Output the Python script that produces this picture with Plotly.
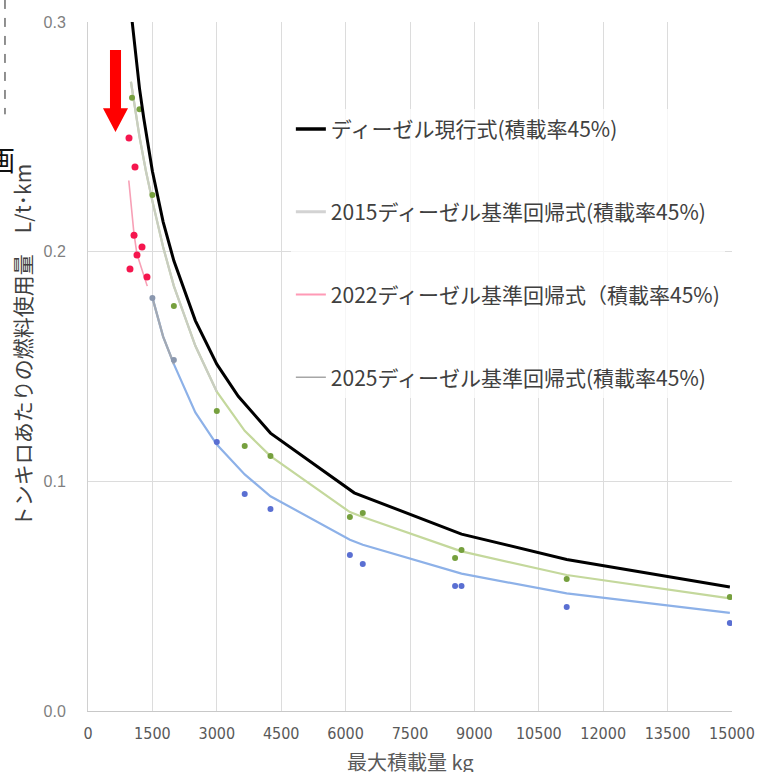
import plotly.graph_objects as go

# ---------------- data ----------------
# current diesel formula (black)
black_x = [1000, 1100, 1200, 1300, 1500, 1750, 2000, 2500, 3000, 3500, 4250, 6200, 8700, 11150, 14950]
black_y = [0.305, 0.287, 0.271, 0.258, 0.235, 0.213, 0.196, 0.170, 0.151, 0.137, 0.121, 0.095, 0.077, 0.066, 0.054]

# 2015 regression line (green)
green_line_x = [1000, 1100, 1200, 1350, 1500, 1750, 2000, 2500, 3000, 3650, 4250, 6100, 6400, 8550, 8700, 11150, 14950]
green_line_y = [0.274, 0.262, 0.250, 0.235, 0.222, 0.202, 0.185, 0.159, 0.139, 0.122, 0.111, 0.0866, 0.0845, 0.0705, 0.0695, 0.0592, 0.049]
green_pts_x = [1025, 1200, 1500, 2000, 3000, 3650, 4250, 6100, 6400, 8550, 8700, 11150, 14950]
green_pts_y = [0.267, 0.262, 0.2247, 0.1763, 0.1306, 0.1154, 0.111, 0.0845, 0.0862, 0.0666, 0.0701, 0.0575, 0.0496]

# 2025 regression line (blue)
blue_line_x = [1500, 1750, 2000, 2500, 3000, 3650, 4250, 6100, 6400, 8550, 8700, 11150, 14950]
blue_line_y = [0.180, 0.163, 0.151, 0.130, 0.116, 0.103, 0.0935, 0.0746, 0.0724, 0.0604, 0.0598, 0.0512, 0.0427]
blue_pts_x = [1500, 2000, 3000, 3650, 4250, 6100, 6400, 8550, 8700, 11150, 14950]
blue_pts_y = [0.1798, 0.1528, 0.1171, 0.0945, 0.088, 0.0679, 0.064, 0.0544, 0.0544, 0.0453, 0.0383]

# 2022 regression line (pink) and small-vehicle points (red)
pink_line_x = [950, 1070, 1140, 1260, 1380]
pink_line_y = [0.231, 0.208, 0.199, 0.192, 0.185]
red_pts_x = [955, 1095, 1072, 1258, 1141, 978, 1374]
red_pts_y = [0.2495, 0.2369, 0.2072, 0.202, 0.1985, 0.1924, 0.189]

x_ticks = [0, 1500, 3000, 4500, 6000, 7500, 9000, 10500, 12000, 13500, 15000]
y_ticks = [0.0, 0.1, 0.2, 0.3]

legend_names = [
    "ディーゼル現行式(積載率45%)",
    "2015ディーゼル基準回帰式(積載率45%)",
    "2022ディーゼル基準回帰式（積載率45%)",
    "2025ディーゼル基準回帰式(積載率45%)",
]

JP = "Noto Sans CJK JP, Noto Sans, sans-serif"

fig = go.Figure()

# regression lines
fig.add_trace(go.Scatter(x=green_line_x, y=green_line_y, mode="lines",
                         line=dict(color="#C4D89C", width=2.2), showlegend=False, hoverinfo="skip"))
fig.add_trace(go.Scatter(x=green_line_x[:9], y=green_line_y[:9], mode="lines",
                         line=dict(color="#C9CDC2", width=2.2), showlegend=False, hoverinfo="skip"))
fig.add_trace(go.Scatter(x=blue_line_x, y=blue_line_y, mode="lines",
                         line=dict(color="#8DB1E8", width=2.2), showlegend=False, hoverinfo="skip"))
fig.add_trace(go.Scatter(x=blue_line_x[:3], y=blue_line_y[:3], mode="lines",
                         line=dict(color="#A3A9B2", width=2.2), showlegend=False, hoverinfo="skip"))
fig.add_trace(go.Scatter(x=pink_line_x, y=pink_line_y, mode="lines",
                         line=dict(color="#F7A0B6", width=1.6), showlegend=False, hoverinfo="skip"))

# data points
fig.add_trace(go.Scatter(x=green_pts_x, y=green_pts_y, mode="markers",
                         marker=dict(color="#76A03E", size=6), showlegend=False))
fig.add_trace(go.Scatter(x=blue_pts_x, y=blue_pts_y, mode="markers",
                         marker=dict(color=["#8A97AE", "#8A97AE"] + ["#5A6FD2"] * (len(blue_pts_x) - 2), size=6),
                         showlegend=False))
fig.add_trace(go.Scatter(x=red_pts_x, y=red_pts_y, mode="markers",
                         marker=dict(color="#F5164E", size=7), showlegend=False))

# current formula
fig.add_trace(go.Scatter(x=black_x, y=black_y, mode="lines",
                         line=dict(color="#000000", width=3), showlegend=False, hoverinfo="skip"))

# legend entries
leg_styles = [("#000000", 3.5), ("#D3D3D3", 3), ("#FF9AB6", 2), ("#A6A6A6", 1.5)]
for i, (name, (c, w)) in enumerate(zip(legend_names, leg_styles)):
    fig.add_trace(go.Scatter(x=[None], y=[None], mode="lines", name=name,
                             line=dict(color=c, width=w), legendgroup=f"g{i}"))

# red arrow (annotation graphic)
fig.add_shape(type="path",
              path="M 512 0.2878 L 769 0.2878 L 769 0.2625 L 932 0.2625 L 640 0.2521 L 349 0.2625 L 512 0.2625 Z",
              xref="x", yref="y", fillcolor="#FF0000", line=dict(width=0))

# fragments of neighbouring content at the left edge
fig.add_shape(type="line", xref="paper", yref="paper",
              x0=-0.1289, x1=-0.1289, y0=1.032, y1=0.866,
              line=dict(color="#222222", width=1, dash="dash"))
fig.add_annotation(text="画", xref="paper", yref="paper", x=-0.134, y=0.80,
                   showarrow=False, font=dict(family=JP, size=27, color="#111111"),
                   xanchor="center", yanchor="middle")

# y-axis title
fig.add_annotation(text="トンキロあたりの燃料使用量　L/t･km", xref="paper", yref="paper",
                   x=-0.102, y=0.53, textangle=-90, showarrow=False,
                   font=dict(family=JP, size=21, color="#404040"),
                   xanchor="center", yanchor="middle")

# x-axis title
fig.add_annotation(text="最大積載量 kg", xref="paper", yref="paper",
                   x=0.5, y=-0.074, showarrow=False,
                   font=dict(family=JP, size=20, color="#595959"),
                   xanchor="center", yanchor="middle")

fig.update_layout(
    width=764, height=772,
    margin=dict(l=88, r=32, t=22, b=61),
    paper_bgcolor="white", plot_bgcolor="white",
    showlegend=True,
    legend=dict(x=0.315, y=0.874, xanchor="left", yanchor="top",
                bgcolor="rgba(255,255,255,0.75)",
                font=dict(family=JP, size=21, color="#404040"),
                tracegroupgap=52.5, itemwidth=30),
    xaxis=dict(range=[0, 15000], tickvals=x_ticks, ticktext=[str(v) for v in x_ticks],
               automargin=False,
               showgrid=True, gridcolor="#DCDCDC", gridwidth=1,
               showline=True, linecolor="#C8C8C8", zeroline=False, ticks="",
               tickfont=dict(family="Liberation Sans Narrow, DejaVu Sans Condensed, Arial", size=16, color="#595959"),
               ticklabelstandoff=8),
    yaxis=dict(range=[0, 0.3], tickvals=y_ticks, tickformat=".1f",
               automargin=False,
               showgrid=True, gridcolor="#DCDCDC", gridwidth=1,
               showline=True, linecolor="#D0D0D0", zeroline=False, ticks="",
               tickfont=dict(family="Arial", size=16, color="#7F7F7F"),
               ticklabelstandoff=18),
)

fig.write_html("out.html")
